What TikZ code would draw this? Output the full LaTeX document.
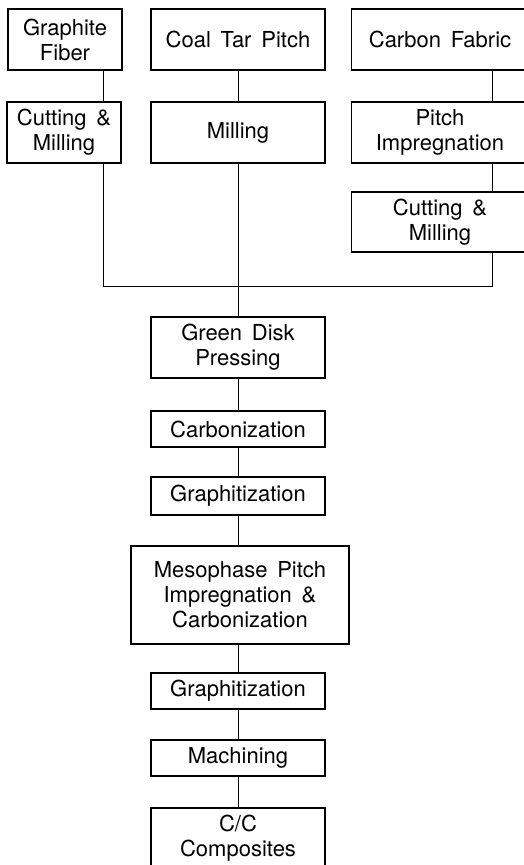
\documentclass[tikz,border=0pt]{standalone}
\usepackage{fontspec}
\setmainfont{TeX Gyre Heros}[WordSpace=1.6]
\usetikzlibrary{positioning,calc}

\begin{document}
\begin{tikzpicture}[
  x=1pt,y=-1pt,
  font=\fontsize{22}{25}\selectfont,
  block/.style={draw=black,line width=1.3pt,minimum width=174pt,minimum height=61pt,align=center,inner sep=2pt},
  small/.style={block,minimum width=114pt},
  wide/.style={block,minimum width=177pt},
  flow/.style={line width=1pt,black}
]
  \useasboundingbox (0,0) rectangle (523,865);

  \node[small] (fiber) at (65,39.5) {Graphite\\Fiber};
  \node[block] (pitch) at (238,39.5) {Coal Tar Pitch};
  \node[wide] (fabric) at (440,39.5) {Carbon Fabric};

  \node[small] (cut1) at (64,132.5) {Cutting \&\\Milling};
  \node[block] (mill) at (238,132.5) {Milling};
  \node[wide] (impreg) at (440,132.5) {Pitch\\Impregnation};
  \node[wide,minimum height=60pt] (cut2) at (440,222) {Cutting \&\\Milling};

  \coordinate (lft) at (103,286);
  \coordinate (rgt) at (492,286);

  \node[block] (green) at (238,347.5) {Green Disk\\Pressing};
  \node[block,minimum height=36pt] (carb) at (238,429) {Carbonization};
  \node[block,minimum height=38pt] (graph1) at (238,496) {Graphitization};
  \node[block,minimum width=218pt,minimum height=98pt] (meso) at (240,595) {Mesophase Pitch\\Impregnation \&\\Carbonization};
  \node[block,minimum height=36pt] (graph2) at (238,691) {Graphitization};
  \node[block,minimum height=36pt] (mach) at (238,758) {Machining};
  \node[block] (cc) at (238,838.5) {C/C\\Composites};

  \draw[flow] (fiber.south -| lft) -- (cut1.north -| lft);
  \draw[flow] (fabric.south -| rgt) -- (impreg.north -| rgt);
  \draw[flow] (impreg.south -| rgt) -- (cut2.north -| rgt);
  \draw[flow] (cut1.south -| lft) -- (lft) -- (rgt) -- (cut2.south -| rgt);
  \draw[flow] (pitch) -- (mill);
  \draw[flow] (mill) -- (green);
  \draw[flow] (green) -- (carb);
  \draw[flow] (carb) -- (graph1);
  \draw[flow] (graph1) -- (meso.north -| graph1);
  \draw[flow] (meso.south -| graph2) -- (graph2);
  \draw[flow] (graph2) -- (mach);
  \draw[flow] (mach) -- (cc);
\end{tikzpicture}
\end{document}
